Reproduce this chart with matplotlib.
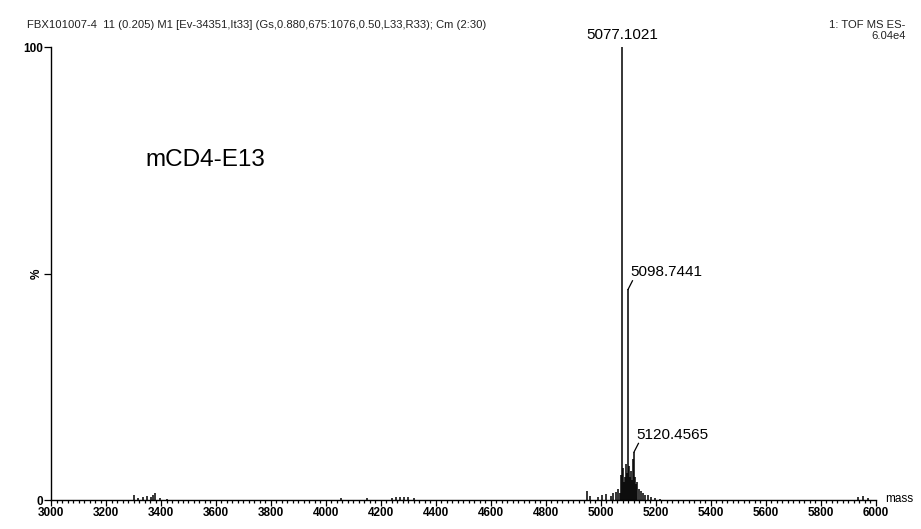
import matplotlib
matplotlib.use("Agg")
import matplotlib.pyplot as plt
from matplotlib.ticker import MultipleLocator

plt.rcParams['font.family'] = ['Liberation Sans', 'DejaVu Sans']

# Peak list (m/z, relative intensity %)
masses = [3300, 3318, 3335, 3348, 3362, 3370, 3378, 3395, 3420,
          4055, 4150, 4240, 4255, 4270, 4285, 4300, 4320,
          4948, 4962, 4990, 5005, 5020, 5035, 5045, 5055, 5062, 5068, 5072,
          5077.1021, 5081, 5084, 5088, 5091, 5094, 5098.7441, 5102, 5105, 5109,
          5112, 5115, 5120.4565, 5124, 5128, 5133, 5138, 5145, 5152, 5160,
          5170, 5182, 5195, 5215, 5935, 5955, 5972]
intens = [1.2, 0.5, 0.7, 0.9, 0.6, 1.0, 1.6, 0.5, 0.3,
          0.5, 0.4, 0.5, 0.7, 0.6, 0.7, 0.6, 0.4,
          2.0, 0.8, 0.7, 1.0, 1.3, 0.8, 1.5, 1.8, 2.5, 1.5, 5.5,
          100.0, 7.0, 4.0, 5.0, 8.0, 6.0, 46.5, 7.5, 5.0, 6.5,
          4.5, 9.0, 10.6, 5.0, 3.5, 4.0, 2.5, 2.0, 1.5, 1.2,
          1.0, 0.7, 0.5, 0.3, 0.6, 0.8, 0.5]

labels = ["5077.1021", "5098.7441", "5120.4565"]
label_mass = [5077.1021, 5098.7441, 5120.4565]
label_int = [100.0, 46.5, 10.6]

xmin, xmax = 3000, 6000
xticks = list(range(3000, 6001, 200))

fig = plt.figure(figsize=(9.21, 5.29), dpi=100)
ax = fig.add_axes([0.0554, 0.0548, 0.8956, 0.8562])

ax.vlines(masses, 0, intens, color='black', linewidth=1.1)

ax.set_xlim(xmin, xmax)
ax.set_ylim(0, 100)
ax.set_xticks(xticks)
ax.set_xticklabels([str(t) for t in xticks], fontsize=8.5, fontweight='bold')
ax.xaxis.set_minor_locator(MultipleLocator(20))
ax.tick_params(axis='x', which='major', direction='out', length=4, width=0.9, pad=1)
ax.tick_params(axis='x', which='minor', direction='out', length=2.5, width=0.9)
ax.set_yticks([0, 50, 100])
ax.set_yticklabels(['0', '%', '100'], fontsize=8.5, fontweight='bold')
for lab in ax.get_yticklabels():
    if lab.get_text() == '%':
        lab.set_rotation(90)
        lab.set_va('center')
ax.tick_params(axis='y', direction='out', length=5, width=0.9, pad=1)

for s in ['top', 'right']:
    ax.spines[s].set_visible(False)
ax.spines['bottom'].set_linewidth(1.0)
ax.spines['left'].set_linewidth(1.0)

# peak labels
ax.text(label_mass[0], 101.2, labels[0], ha='center', va='bottom', fontsize=11)
for lm, li, lt in zip(label_mass[1:], label_int[1:], labels[1:]):
    ax.plot([lm, lm + 16], [li, li + 1.9], color='black', lw=0.9)
    ax.text(lm + 8, li + 2.3, lt, fontsize=11, ha='left', va='bottom')

ax.text(6035, 0.3, 'mass', fontsize=8.5, ha='left', va='center')
ax.text(3345, 75, 'mCD4-E13', fontsize=17.5, ha='left', va='center')

fig.text(0.029, 0.953, 'FBX101007-4  11 (0.205) M1 [Ev-34351,It33] (Gs,0.880,675:1076,0.50,L33,R33); Cm (2:30)',
         fontsize=8.1, ha='left', va='center', color='#222222')
fig.text(0.983, 0.953, '1: TOF MS ES-', fontsize=8.1, ha='right', va='center', color='#222222')
fig.text(0.983, 0.932, '6.04e4', fontsize=8.1, ha='right', va='center', color='#222222')

fig.savefig('out.png', dpi=100)
